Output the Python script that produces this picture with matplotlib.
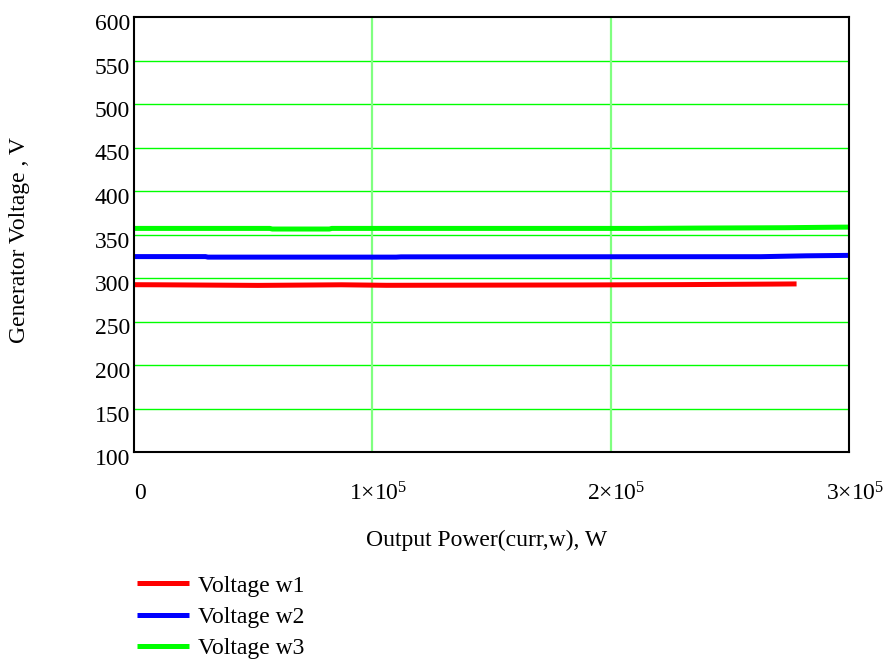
import matplotlib
matplotlib.use('Agg')
import matplotlib.pyplot as plt
import matplotlib.transforms as mtransforms

# readings (W, V)
red_power = [0, 10e3, 52e3, 87e3, 106e3, 187e3, 230e3, 268e3, 278e3]
red_volt = [292.3, 292.2, 291.5, 292.2, 291.6, 292.0, 292.4, 293.0, 293.2]

blue_power = [0, 30e3, 31e3, 110e3, 112e3, 263e3, 282e3, 300e3]
blue_volt = [324.6, 324.6, 324.0, 324.0, 324.3, 324.5, 325.5, 326.0]

green_power = [0, 57e3, 58e3, 82e3, 83e3, 213e3, 238e3, 273e3, 295e3, 300e3]
green_volt = [357.0, 357.0, 356.3, 356.3, 357.0, 357.0, 357.4, 357.8, 358.4, 358.5]

labels = ['Voltage w1', 'Voltage w2', 'Voltage w3']
x_ticks = [0, 1e5, 2e5, 3e5]
x_tick_labels = ['0', r'$1{\times}10^5$', r'$2{\times}10^5$', r'$3{\times}10^5$']
y_ticks = list(range(100, 601, 50))

plt.rcParams['font.family'] = ['Liberation Serif', 'DejaVu Serif']
plt.rcParams['mathtext.fontset'] = 'custom'
plt.rcParams['mathtext.rm'] = 'Liberation Serif'
plt.rcParams['mathtext.it'] = 'Liberation Serif:italic'

FS = 17

fig = plt.figure(figsize=(8.85, 6.59), dpi=100)
ax = fig.add_axes([134/885, 1 - 452/659, 715/885, 435/659])

ax.plot(red_power, red_volt, color='#ff0000', lw=3.6, label=labels[0], solid_capstyle='butt')
ax.plot(blue_power, blue_volt, color='#0000ff', lw=3.6, label=labels[1], solid_capstyle='butt')
ax.plot(green_power, green_volt, color='#00ff00', lw=3.6, label=labels[2], solid_capstyle='butt')

ax.set_xlim(0, 3e5)
ax.set_ylim(100, 600)

# grid lines like the mathcad plot
for y in y_ticks[1:-1]:
  ax.axhline(y, color='#00ff00', lw=1.0, zorder=0.5)
for x in x_ticks[1:-1]:
  ax.axvline(x, color='#80ff80', lw=1.6, zorder=0.5)

ax.set_xticks(x_ticks)
ax.set_xticklabels(x_tick_labels, fontsize=FS)
ax.set_yticks(y_ticks)
ax.set_yticklabels([str(v) for v in y_ticks], fontsize=FS)
ax.tick_params(length=0)
ax.tick_params(axis='x', pad=22)
ax.tick_params(axis='y', pad=3)

dy = mtransforms.ScaledTranslation(0, -5/100, fig.dpi_scale_trans)
for lab in ax.get_yticklabels():
  lab.set_transform(lab.get_transform() + dy)
dx = mtransforms.ScaledTranslation(6/100, 0, fig.dpi_scale_trans)
for lab in ax.get_xticklabels():
  lab.set_transform(lab.get_transform() + dx)

for s in ax.spines.values():
  s.set_linewidth(1.5)
  s.set_color('black')

fig.text(487/885, 1 - 540/659, 'Output Power(curr,w), W', fontsize=FS, ha='center', va='center')
fig.text(20/885, 1 - 240/659, 'Generator Voltage , V', fontsize=FS, ha='center', va='center', rotation=90)

fig.legend(loc='upper left', bbox_to_anchor=(137/885, 1 - 575/659), frameon=False,
           fontsize=FS, handlelength=2.2, handletextpad=0.4, labelspacing=0.42,
           borderpad=0, borderaxespad=0)

fig.savefig('out.png', dpi=100)
